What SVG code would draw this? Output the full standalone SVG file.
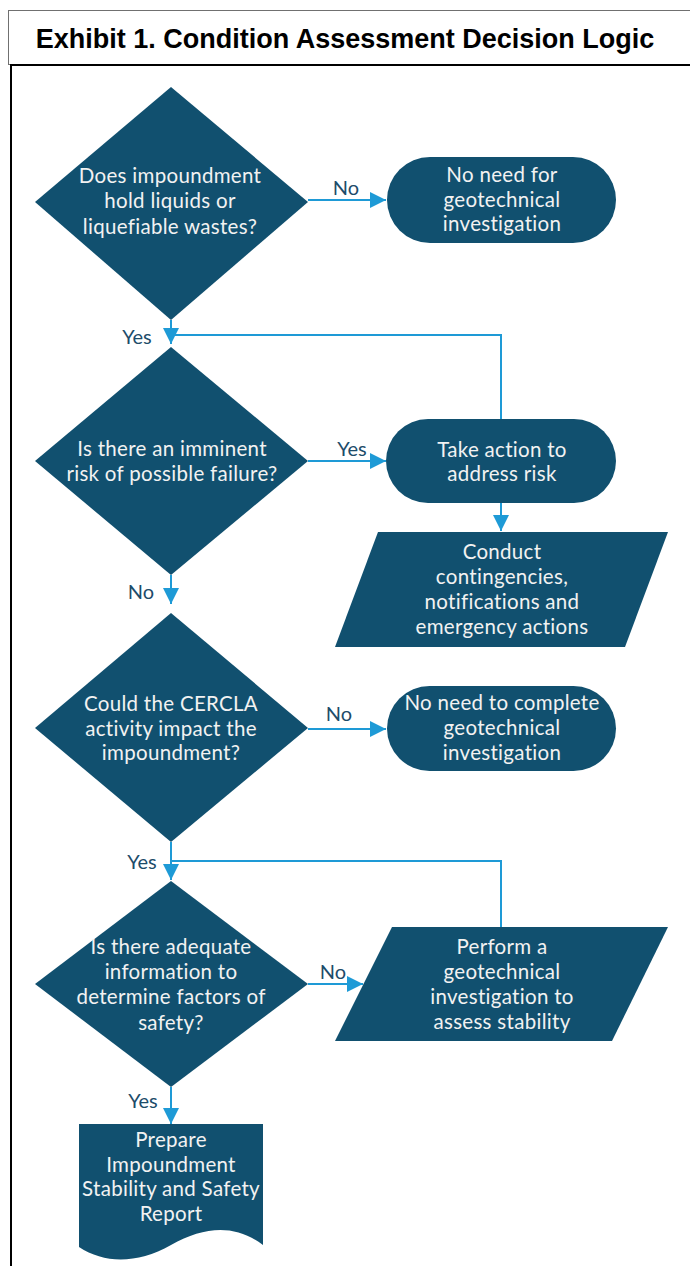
<svg xmlns="http://www.w3.org/2000/svg" width="690" height="1266" viewBox="0 0 690 1266">
  <defs>
    <style>
      .node { fill: #11506f; }
      .nt { font-family: Lato, "Open Sans", sans-serif; font-size: 20.5px; letter-spacing: 0.3px; fill: #f2f2f2; text-anchor: middle; }
      .lbl { font-family: Lato, "Open Sans", sans-serif; font-size: 20px; fill: #1d4c6a; text-anchor: middle; }
      .conn { fill: none; stroke: #1e9ad6; stroke-width: 2; }
      .title { font-family: "Liberation Sans", Arial, sans-serif; font-size: 27px; font-weight: bold; fill: #000; text-anchor: middle; }
    </style>
    <marker id="arr" viewBox="0 0 16 16" refX="16" refY="8" markerWidth="16" markerHeight="16" markerUnits="userSpaceOnUse" orient="auto">
      <path d="M0,0 L16,8 L0,16 Z" fill="#1e9ad6"/>
    </marker>
  </defs>
  <rect x="0" y="0" width="690" height="1266" fill="#ffffff"/>
  <g id="frame">
    <rect x="8.5" y="10.5" width="690" height="54" fill="#ffffff" stroke="#707070" stroke-width="1"/>
    <rect x="11" y="65" width="690" height="1220" fill="none" stroke="#000000" stroke-width="2"/>
    <text class="title" x="345" y="48">Exhibit 1. Condition Assessment Decision Logic</text>
  </g>

  <g id="connectors">
    <path class="conn" d="M308,200 H386" marker-end="url(#arr)"/>
    <path class="conn" d="M171,320 V344" marker-end="url(#arr)"/>
    <path class="conn" d="M501,419 V335 H171"/>
    <path class="conn" d="M308,461 H386" marker-end="url(#arr)"/>
    <path class="conn" d="M501,503 V531" marker-end="url(#arr)"/>
    <path class="conn" d="M171,575 V604" marker-end="url(#arr)"/>
    <path class="conn" d="M308,729 H386" marker-end="url(#arr)"/>
    <path class="conn" d="M171,842 V880" marker-end="url(#arr)"/>
    <path class="conn" d="M501,927 V861 H171"/>
    <path class="conn" d="M308,984 H363" marker-end="url(#arr)"/>
    <path class="conn" d="M171,1087 V1124" marker-end="url(#arr)"/>
    <text class="lbl" x="346" y="195">No</text>
    <text class="lbl" x="137" y="344">Yes</text>
    <text class="lbl" x="352" y="456">Yes</text>
    <text class="lbl" x="141" y="599">No</text>
    <text class="lbl" x="339" y="721">No</text>
    <text class="lbl" x="142" y="869">Yes</text>
    <text class="lbl" x="333" y="979">No</text>
    <text class="lbl" x="143" y="1108">Yes</text>
  </g>

  <g id="d1">
    <polygon class="node" points="171,87 308,202 171,320 35,202"/>
    <text class="nt" x="170" y="183">Does impoundment</text>
    <text class="nt" x="170" y="208">hold liquids or</text>
    <text class="nt" x="170" y="234">liquefiable wastes?</text>
  </g>
  <g id="t1">
    <rect class="node" x="387" y="157" width="229" height="86" rx="43" ry="43"/>
    <text class="nt" x="502" y="182">No need for</text>
    <text class="nt" x="502" y="207">geotechnical</text>
    <text class="nt" x="502" y="231">investigation</text>
  </g>
  <g id="d2">
    <polygon class="node" points="171,347 308,461 171,575 35,461"/>
    <text class="nt" x="172" y="456">Is there an imminent</text>
    <text class="nt" x="172" y="481">risk of possible failure?</text>
  </g>
  <g id="t2">
    <rect class="node" x="386" y="419" width="230" height="84" rx="42" ry="42"/>
    <text class="nt" x="502" y="457">Take action to</text>
    <text class="nt" x="502" y="481">address risk</text>
  </g>
  <g id="p1">
    <polygon class="node" points="378,532 668,532 625,647 335,647"/>
    <text class="nt" x="502" y="559">Conduct</text>
    <text class="nt" x="502" y="584">contingencies,</text>
    <text class="nt" x="502" y="609">notifications and</text>
    <text class="nt" x="502" y="634">emergency actions</text>
  </g>
  <g id="d3">
    <polygon class="node" points="171,613 308,728 171,842 35,728"/>
    <text class="nt" x="171" y="711">Could the CERCLA</text>
    <text class="nt" x="171" y="736">activity impact the</text>
    <text class="nt" x="171" y="760">impoundment?</text>
  </g>
  <g id="t3">
    <rect class="node" x="387" y="686" width="229" height="85" rx="42.5" ry="42.5"/>
    <text class="nt" x="502" y="710">No need to complete</text>
    <text class="nt" x="502" y="735">geotechnical</text>
    <text class="nt" x="502" y="760">investigation</text>
  </g>
  <g id="d4">
    <polygon class="node" points="171,881 308,984 171,1087 35,984"/>
    <text class="nt" x="171" y="954">Is there adequate</text>
    <text class="nt" x="171" y="979">information to</text>
    <text class="nt" x="171" y="1004">determine factors of</text>
    <text class="nt" x="171" y="1030">safety?</text>
  </g>
  <g id="p2">
    <polygon class="node" points="392,927 668,927 612,1041 335,1041"/>
    <text class="nt" x="502" y="954">Perform a</text>
    <text class="nt" x="502" y="979">geotechnical</text>
    <text class="nt" x="502" y="1004">investigation to</text>
    <text class="nt" x="502" y="1029">assess stability</text>
  </g>
  <g id="doc">
    <path class="node" d="M79,1124 H263 V1245 C235,1224 205,1226 171,1245 C137,1264 105,1264 79,1247 Z"/>
    <text class="nt" x="171" y="1147">Prepare</text>
    <text class="nt" x="171" y="1172">Impoundment</text>
    <text class="nt" x="171" y="1196">Stability and Safety</text>
    <text class="nt" x="171" y="1221">Report</text>
  </g>
</svg>
